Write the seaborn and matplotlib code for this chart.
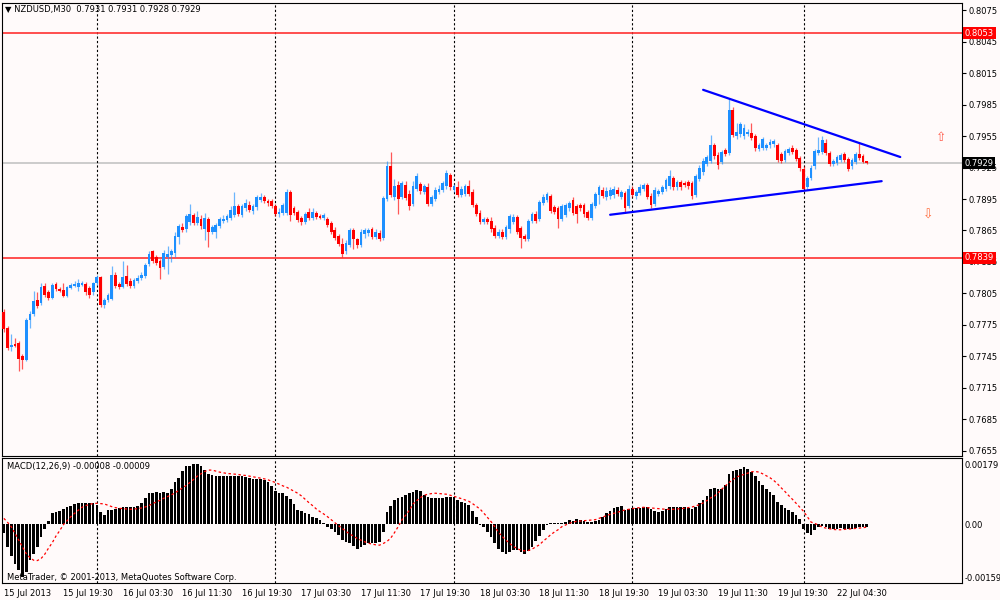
import matplotlib
matplotlib.use("Agg")
import matplotlib.pyplot as plt
import matplotlib.transforms as mtransforms
import seaborn as sns
import numpy as np

# NZDUSD M30, one entry per bar (15 Jul 2013 11:30 -> 22 Jul 2013 07:30)
opens = [
    0.7787, 0.7772, 0.7754, 0.7757, 0.7758, 0.7745, 0.7742, 0.7780, 0.7785, 0.7799,
    0.7796, 0.7812, 0.7806, 0.7801, 0.7814, 0.7809, 0.7808, 0.7803, 0.7810, 0.7812,
    0.7811, 0.7813, 0.7814, 0.7810, 0.7806, 0.7815, 0.7821, 0.7794, 0.7799, 0.7800,
    0.7823, 0.7814, 0.7811, 0.7822, 0.7817, 0.7812, 0.7817, 0.7820, 0.7822, 0.7833,
    0.7845, 0.7840, 0.7836, 0.7830, 0.7840, 0.7842, 0.7844, 0.7859, 0.7868, 0.7866,
    0.7873, 0.7880, 0.7872, 0.7876, 0.7866, 0.7876, 0.7864, 0.7864, 0.7869, 0.7874,
    0.7875, 0.7877, 0.7880, 0.7888, 0.7880, 0.7886, 0.7889, 0.7884, 0.7887, 0.7894,
    0.7897, 0.7893, 0.7893, 0.7888, 0.7881, 0.7882, 0.7882, 0.7902, 0.7886, 0.7883,
    0.7877, 0.7873, 0.7883, 0.7877, 0.7882, 0.7879, 0.7877, 0.7876, 0.7872, 0.7865,
    0.7860, 0.7852, 0.7845, 0.7851, 0.7865, 0.7857, 0.7851, 0.7862, 0.7863, 0.7866,
    0.7859, 0.7863, 0.7858, 0.7895, 0.7926, 0.7897, 0.7908, 0.7897, 0.7908, 0.7900,
    0.7890, 0.7905, 0.7909, 0.7902, 0.7906, 0.7890, 0.7895, 0.7902, 0.7904, 0.7907,
    0.7918, 0.7904, 0.7906, 0.7899, 0.7900, 0.7907, 0.7902, 0.7889, 0.7882, 0.7873,
    0.7876, 0.7874, 0.7867, 0.7860, 0.7864, 0.7859, 0.7866, 0.7873, 0.7878, 0.7867,
    0.7860, 0.7857, 0.7874, 0.7881, 0.7876, 0.7891, 0.7894, 0.7898, 0.7887, 0.7886,
    0.7876, 0.7880, 0.7886, 0.7894, 0.7888, 0.7889, 0.7889, 0.7883, 0.7877, 0.7888,
    0.7899, 0.7904, 0.7897, 0.7898, 0.7899, 0.7904, 0.7897, 0.7901, 0.7888, 0.7905,
    0.7898, 0.7901, 0.7905, 0.7908, 0.7898, 0.7890, 0.7900, 0.7902, 0.7905, 0.7907,
    0.7915, 0.7906, 0.7911, 0.7910, 0.7911, 0.7910, 0.7899, 0.7914, 0.7921, 0.7928,
    0.7931, 0.7946, 0.7937, 0.7930, 0.7942, 0.7939, 0.7980, 0.7955, 0.7957, 0.7955,
    0.7957, 0.7958, 0.7955, 0.7943, 0.7944, 0.7944, 0.7946, 0.7947, 0.7946, 0.7938,
    0.7932, 0.7939, 0.7944, 0.7942, 0.7934, 0.7924, 0.7906, 0.7915, 0.7926, 0.7939,
    0.7940, 0.7948, 0.7939, 0.7928, 0.7929, 0.7932, 0.7938, 0.7933, 0.7926, 0.7930,
    0.7938, 0.7936, 0.7931,
]
highs = [
    0.7790, 0.7774, 0.7766, 0.7763, 0.7760, 0.7747, 0.7782, 0.7788, 0.7807, 0.7806,
    0.7815, 0.7815, 0.7808, 0.7815, 0.7816, 0.7811, 0.7815, 0.7812, 0.7815, 0.7817,
    0.7819, 0.7817, 0.7816, 0.7812, 0.7816, 0.7823, 0.7822, 0.7801, 0.7805, 0.7831,
    0.7825, 0.7816, 0.7836, 0.7832, 0.7820, 0.7820, 0.7823, 0.7825, 0.7834, 0.7845,
    0.7846, 0.7842, 0.7838, 0.7846, 0.7850, 0.7847, 0.7864, 0.7871, 0.7872, 0.7881,
    0.7890, 0.7882, 0.7884, 0.7880, 0.7882, 0.7878, 0.7870, 0.7872, 0.7878, 0.7880,
    0.7881, 0.7888, 0.7902, 0.7890, 0.7890, 0.7895, 0.7893, 0.7890, 0.7899, 0.7901,
    0.7899, 0.7895, 0.7895, 0.7890, 0.7886, 0.7891, 0.7905, 0.7904, 0.7888, 0.7885,
    0.7879, 0.7883, 0.7886, 0.7886, 0.7884, 0.7881, 0.7882, 0.7878, 0.7874, 0.7868,
    0.7862, 0.7858, 0.7856, 0.7867, 0.7867, 0.7858, 0.7866, 0.7867, 0.7867, 0.7868,
    0.7866, 0.7865, 0.7898, 0.7931, 0.7940, 0.7914, 0.7912, 0.7912, 0.7912, 0.7904,
    0.7912, 0.7920, 0.7911, 0.7909, 0.7910, 0.7899, 0.7906, 0.7908, 0.7912, 0.7923,
    0.7920, 0.7909, 0.7912, 0.7907, 0.7909, 0.7913, 0.7905, 0.7891, 0.7885, 0.7878,
    0.7878, 0.7878, 0.7870, 0.7866, 0.7866, 0.7870, 0.7881, 0.7881, 0.7880, 0.7869,
    0.7862, 0.7876, 0.7883, 0.7884, 0.7894, 0.7900, 0.7902, 0.7900, 0.7889, 0.7888,
    0.7890, 0.7891, 0.7893, 0.7897, 0.7890, 0.7891, 0.7891, 0.7885, 0.7892, 0.7902,
    0.7908, 0.7906, 0.7906, 0.7906, 0.7907, 0.7906, 0.7904, 0.7903, 0.7908, 0.7907,
    0.7904, 0.7909, 0.7910, 0.7910, 0.7901, 0.7906, 0.7905, 0.7908, 0.7915, 0.7923,
    0.7917, 0.7913, 0.7913, 0.7912, 0.7913, 0.7912, 0.7919, 0.7927, 0.7934, 0.7937,
    0.7956, 0.7948, 0.7940, 0.7942, 0.7944, 0.7991, 0.7983, 0.7967, 0.7968, 0.7966,
    0.7962, 0.7967, 0.7957, 0.7948, 0.7954, 0.7948, 0.7952, 0.7952, 0.7948, 0.7940,
    0.7943, 0.7945, 0.7946, 0.7944, 0.7936, 0.7926, 0.7917, 0.7927, 0.7943, 0.7954,
    0.7955, 0.7952, 0.7941, 0.7933, 0.7937, 0.7939, 0.7940, 0.7935, 0.7934, 0.7940,
    0.7948, 0.7938, 0.7931,
]
lows = [
    0.7768, 0.7751, 0.7750, 0.7754, 0.7731, 0.7733, 0.7741, 0.7772, 0.7784, 0.7791,
    0.7794, 0.7802, 0.7799, 0.7800, 0.7807, 0.7806, 0.7802, 0.7802, 0.7809, 0.7811,
    0.7807, 0.7812, 0.7804, 0.7801, 0.7804, 0.7813, 0.7792, 0.7791, 0.7797, 0.7799,
    0.7810, 0.7809, 0.7810, 0.7812, 0.7810, 0.7810, 0.7815, 0.7818, 0.7820, 0.7831,
    0.7834, 0.7832, 0.7819, 0.7828, 0.7824, 0.7835, 0.7840, 0.7852, 0.7864, 0.7864,
    0.7870, 0.7870, 0.7870, 0.7866, 0.7856, 0.7849, 0.7862, 0.7858, 0.7867, 0.7872,
    0.7873, 0.7875, 0.7878, 0.7879, 0.7878, 0.7884, 0.7883, 0.7881, 0.7885, 0.7892,
    0.7891, 0.7888, 0.7886, 0.7879, 0.7878, 0.7880, 0.7880, 0.7874, 0.7880, 0.7873,
    0.7870, 0.7871, 0.7875, 0.7875, 0.7876, 0.7876, 0.7875, 0.7868, 0.7862, 0.7856,
    0.7850, 0.7840, 0.7843, 0.7849, 0.7847, 0.7848, 0.7849, 0.7858, 0.7860, 0.7857,
    0.7857, 0.7855, 0.7856, 0.7893, 0.7897, 0.7894, 0.7881, 0.7895, 0.7894, 0.7885,
    0.7888, 0.7903, 0.7900, 0.7900, 0.7888, 0.7888, 0.7893, 0.7900, 0.7902, 0.7905,
    0.7904, 0.7902, 0.7897, 0.7897, 0.7898, 0.7898, 0.7887, 0.7879, 0.7871, 0.7871,
    0.7871, 0.7864, 0.7858, 0.7858, 0.7857, 0.7857, 0.7863, 0.7871, 0.7862, 0.7848,
    0.7855, 0.7855, 0.7872, 0.7872, 0.7874, 0.7889, 0.7892, 0.7882, 0.7881, 0.7867,
    0.7874, 0.7878, 0.7884, 0.7880, 0.7872, 0.7884, 0.7878, 0.7875, 0.7875, 0.7886,
    0.7890, 0.7896, 0.7894, 0.7895, 0.7896, 0.7898, 0.7895, 0.7882, 0.7886, 0.7897,
    0.7895, 0.7899, 0.7903, 0.7895, 0.7886, 0.7888, 0.7898, 0.7900, 0.7903, 0.7905,
    0.7904, 0.7904, 0.7904, 0.7906, 0.7905, 0.7895, 0.7897, 0.7912, 0.7918, 0.7926,
    0.7929, 0.7933, 0.7924, 0.7928, 0.7936, 0.7937, 0.7954, 0.7952, 0.7954, 0.7952,
    0.7955, 0.7951, 0.7941, 0.7941, 0.7942, 0.7942, 0.7944, 0.7945, 0.7930, 0.7929,
    0.7930, 0.7937, 0.7938, 0.7931, 0.7922, 0.7903, 0.7904, 0.7913, 0.7924, 0.7937,
    0.7938, 0.7937, 0.7926, 0.7926, 0.7927, 0.7930, 0.7930, 0.7922, 0.7924, 0.7928,
    0.7932, 0.7929, 0.7928,
]
closes = [
    0.7771, 0.7753, 0.7756, 0.7755, 0.7743, 0.7742, 0.7780, 0.7785, 0.7798, 0.7793,
    0.7811, 0.7804, 0.7801, 0.7813, 0.7809, 0.7807, 0.7803, 0.7811, 0.7813, 0.7814,
    0.7815, 0.7815, 0.7806, 0.7804, 0.7815, 0.7821, 0.7794, 0.7799, 0.7804, 0.7823,
    0.7812, 0.7811, 0.7821, 0.7814, 0.7812, 0.7818, 0.7820, 0.7823, 0.7832, 0.7843,
    0.7836, 0.7834, 0.7829, 0.7844, 0.7843, 0.7845, 0.7860, 0.7869, 0.7865, 0.7879,
    0.7881, 0.7872, 0.7878, 0.7869, 0.7877, 0.7864, 0.7868, 0.7870, 0.7876, 0.7876,
    0.7879, 0.7885, 0.7888, 0.7881, 0.7888, 0.7891, 0.7885, 0.7888, 0.7897, 0.7897,
    0.7893, 0.7891, 0.7888, 0.7881, 0.7883, 0.7889, 0.7902, 0.7880, 0.7882, 0.7875,
    0.7873, 0.7881, 0.7877, 0.7883, 0.7878, 0.7877, 0.7880, 0.7870, 0.7864, 0.7858,
    0.7852, 0.7843, 0.7853, 0.7865, 0.7857, 0.7851, 0.7864, 0.7865, 0.7865, 0.7859,
    0.7864, 0.7857, 0.7896, 0.7926, 0.7899, 0.7907, 0.7895, 0.7910, 0.7896, 0.7888,
    0.7907, 0.7917, 0.7903, 0.7907, 0.7890, 0.7897, 0.7904, 0.7905, 0.7910, 0.7920,
    0.7906, 0.7907, 0.7899, 0.7905, 0.7907, 0.7900, 0.7889, 0.7881, 0.7873, 0.7876,
    0.7873, 0.7866, 0.7860, 0.7864, 0.7859, 0.7868, 0.7879, 0.7878, 0.7864, 0.7858,
    0.7857, 0.7874, 0.7881, 0.7874, 0.7892, 0.7897, 0.7900, 0.7884, 0.7883, 0.7876,
    0.7888, 0.7889, 0.7891, 0.7882, 0.7881, 0.7886, 0.7881, 0.7877, 0.7890, 0.7900,
    0.7906, 0.7898, 0.7903, 0.7904, 0.7905, 0.7900, 0.7902, 0.7886, 0.7905, 0.7899,
    0.7902, 0.7906, 0.7908, 0.7897, 0.7889, 0.7904, 0.7903, 0.7906, 0.7913, 0.7917,
    0.7906, 0.7911, 0.7906, 0.7908, 0.7907, 0.7898, 0.7917, 0.7925, 0.7931, 0.7935,
    0.7946, 0.7936, 0.7927, 0.7940, 0.7938, 0.7980, 0.7956, 0.7959, 0.7966, 0.7963,
    0.7959, 0.7953, 0.7944, 0.7946, 0.7952, 0.7946, 0.7949, 0.7950, 0.7932, 0.7931,
    0.7941, 0.7943, 0.7940, 0.7933, 0.7925, 0.7905, 0.7915, 0.7925, 0.7941, 0.7942,
    0.7951, 0.7939, 0.7928, 0.7931, 0.7935, 0.7937, 0.7932, 0.7924, 0.7932, 0.7938,
    0.7934, 0.7930, 0.7929,
]

# MACD(12,26,9): main line (histogram) and signal line
macd_main = [
    -0.00028, -0.00068, -0.00096, -0.00118, -0.00138, -0.00159, -0.00143, -0.00108, -0.00088, -0.00068,
    -0.00040, -0.00015, 0.00008, 0.00032, 0.00037, 0.00040, 0.00044, 0.00050, 0.00054, 0.00059,
    0.00062, 0.00062, 0.00062, 0.00062, 0.00064, 0.00057, 0.00037, 0.00027, 0.00042, 0.00042,
    0.00044, 0.00047, 0.00050, 0.00050, 0.00050, 0.00052, 0.00054, 0.00064, 0.00077, 0.00094,
    0.00094, 0.00097, 0.00094, 0.00097, 0.00094, 0.00104, 0.00124, 0.00137, 0.00157, 0.00172,
    0.00174, 0.00179, 0.00178, 0.00174, 0.00160, 0.00150, 0.00147, 0.00144, 0.00142, 0.00142,
    0.00142, 0.00144, 0.00144, 0.00142, 0.00142, 0.00140, 0.00137, 0.00134, 0.00134, 0.00134,
    0.00130, 0.00124, 0.00114, 0.00100, 0.00092, 0.00094, 0.00084, 0.00074, 0.00060, 0.00042,
    0.00040, 0.00034, 0.00029, 0.00022, 0.00017, 0.00012, 0.00002, -0.00008, -0.00015, -0.00023,
    -0.00033, -0.00048, -0.00053, -0.00058, -0.00066, -0.00073, -0.00068, -0.00063, -0.00058, -0.00056,
    -0.00056, -0.00053, -0.00023, 0.00037, 0.00054, 0.00072, 0.00077, 0.00082, 0.00087, 0.00092,
    0.00097, 0.00102, 0.00100, 0.00087, 0.00082, 0.00077, 0.00077, 0.00077, 0.00077, 0.00082,
    0.00080, 0.00080, 0.00072, 0.00067, 0.00064, 0.00057, 0.00040, 0.00022, -0.00002, -0.00008,
    -0.00023, -0.00040, -0.00058, -0.00073, -0.00083, -0.00090, -0.00083, -0.00078, -0.00078, -0.00083,
    -0.00090, -0.00080, -0.00068, -0.00050, -0.00036, -0.00018, -0.00003, 0.00002, 0.00004, 0.00002,
    0.00004, 0.00007, 0.00012, 0.00010, 0.00014, 0.00012, 0.00009, 0.00007, 0.00005, 0.00008,
    0.00012, 0.00022, 0.00032, 0.00040, 0.00047, 0.00052, 0.00054, 0.00042, 0.00044, 0.00047,
    0.00047, 0.00048, 0.00050, 0.00052, 0.00046, 0.00040, 0.00037, 0.00040, 0.00044, 0.00050,
    0.00050, 0.00050, 0.00050, 0.00050, 0.00047, 0.00046, 0.00052, 0.00062, 0.00072, 0.00084,
    0.00104, 0.00108, 0.00106, 0.00104, 0.00117, 0.00150, 0.00158, 0.00161, 0.00164, 0.00170,
    0.00164, 0.00154, 0.00142, 0.00127, 0.00117, 0.00104, 0.00096, 0.00087, 0.00067, 0.00057,
    0.00047, 0.00042, 0.00037, 0.00027, 0.00015, -0.00016, -0.00026, -0.00033, -0.00018, -0.00010,
    -0.00006, -0.00010, -0.00014, -0.00016, -0.00016, -0.00013, -0.00014, -0.00016, -0.00014, -0.00012,
    -0.00010, -0.00009, -0.00008,
]
macd_signal = [
    0.00017, 0.00005, -0.00008, -0.00028, -0.00048, -0.00068, -0.00088, -0.00100, -0.00108, -0.00109,
    -0.00103, -0.00090, -0.00072, -0.00056, -0.00036, -0.00020, -0.00002, 0.00010, 0.00022, 0.00032,
    0.00041, 0.00050, 0.00055, 0.00059, 0.00061, 0.00062, 0.00061, 0.00060, 0.00056, 0.00052,
    0.00049, 0.00047, 0.00046, 0.00045, 0.00044, 0.00045, 0.00046, 0.00048, 0.00051, 0.00055,
    0.00061, 0.00066, 0.00071, 0.00077, 0.00082, 0.00087, 0.00093, 0.00100, 0.00108, 0.00115,
    0.00124, 0.00133, 0.00143, 0.00150, 0.00157, 0.00161, 0.00161, 0.00158, 0.00155, 0.00153,
    0.00151, 0.00150, 0.00149, 0.00148, 0.00146, 0.00145, 0.00143, 0.00141, 0.00139, 0.00137,
    0.00135, 0.00132, 0.00128, 0.00124, 0.00119, 0.00114, 0.00110, 0.00104, 0.00098, 0.00092,
    0.00084, 0.00074, 0.00064, 0.00055, 0.00045, 0.00037, 0.00030, 0.00022, 0.00013, 0.00004,
    -0.00005, -0.00013, -0.00022, -0.00030, -0.00036, -0.00043, -0.00048, -0.00053, -0.00057, -0.00060,
    -0.00062, -0.00063, -0.00058, -0.00052, -0.00042, -0.00026, -0.00008, 0.00012, 0.00026, 0.00041,
    0.00060, 0.00070, 0.00079, 0.00086, 0.00089, 0.00091, 0.00092, 0.00091, 0.00090, 0.00089,
    0.00086, 0.00083, 0.00079, 0.00076, 0.00072, 0.00068, 0.00061, 0.00053, 0.00045, 0.00033,
    0.00020, 0.00007, -0.00008, -0.00025, -0.00037, -0.00048, -0.00058, -0.00067, -0.00073, -0.00078,
    -0.00080, -0.00079, -0.00075, -0.00068, -0.00062, -0.00051, -0.00042, -0.00032, -0.00024, -0.00017,
    -0.00008, -0.00003, 0.00002, 0.00006, 0.00008, 0.00009, 0.00010, 0.00011, 0.00012, 0.00013,
    0.00017, 0.00021, 0.00025, 0.00029, 0.00032, 0.00035, 0.00039, 0.00042, 0.00044, 0.00046,
    0.00048, 0.00049, 0.00050, 0.00049, 0.00048, 0.00047, 0.00046, 0.00045, 0.00044, 0.00044,
    0.00044, 0.00045, 0.00046, 0.00047, 0.00049, 0.00051, 0.00054, 0.00058, 0.00063, 0.00070,
    0.00078, 0.00083, 0.00093, 0.00104, 0.00114, 0.00124, 0.00133, 0.00140, 0.00145, 0.00148,
    0.00152, 0.00156, 0.00157, 0.00155, 0.00150, 0.00144, 0.00138, 0.00130, 0.00120, 0.00108,
    0.00097, 0.00085, 0.00074, 0.00062, 0.00050, 0.00038, 0.00022, 0.00006, 0.00002, -0.00003,
    -0.00009, -0.00012, -0.00014, -0.00016, -0.00017, -0.00017, -0.00016, -0.00015, -0.00014, -0.00013,
    -0.00012, -0.00011, -0.00009,
]

time_labels = ["15 Jul 2013", "15 Jul 19:30", "16 Jul 03:30", "16 Jul 11:30", "16 Jul 19:30",
               "17 Jul 03:30", "17 Jul 11:30", "17 Jul 19:30", "18 Jul 03:30", "18 Jul 11:30",
               "18 Jul 19:30", "19 Jul 03:30", "19 Jul 11:30", "19 Jul 19:30", "22 Jul 04:30"]
time_label_bars = [0, 16, 32, 48, 64, 80, 96, 112, 128, 144, 160, 176, 192, 208, 224]
day_start_bars = [25, 73, 121, 169, 215]

price_ticks = [0.8075, 0.8045, 0.8015, 0.7985, 0.7955, 0.7925, 0.7895, 0.7865,
               0.7835, 0.7805, 0.7775, 0.7745, 0.7715, 0.7685, 0.7655]
macd_ticks = [0.00179, 0.0, -0.00159]
macd_tick_labels = ["0.00179", "0.00", "-0.00159"]

resistance = 0.8053
support = 0.7839
last_price = 0.7929
# hand-drawn trend lines: (bar, price) end points
upper_trend_bars, upper_trend_prices = [188, 241], [0.7999, 0.7935]
lower_trend_bars, lower_trend_prices = [163, 236], [0.7880, 0.7912]
up_arrow = (252, 0.7954)
down_arrow = (248.5, 0.7880)

bg = "#fffafa"
bull, bear = "#1e90ff", "#ff0000"

sns.set_style("white")
plt.rcParams["font.family"] = ["DejaVu Sans"]
plt.rcParams["axes.linewidth"] = 0.8

fig = plt.figure(figsize=(10, 6), dpi=100, facecolor=bg)
ax = fig.add_axes([0.002, 0.24, 0.960, 0.755], facecolor=bg)
axm = fig.add_axes([0.002, 0.0283, 0.960, 0.2083], facecolor=bg, sharex=ax)

x = np.arange(len(closes))
o, h, l, c = (np.array(v) for v in (opens, highs, lows, closes))
cols = np.where(c >= o, bull, bear)

# price panel
ax.axhline(last_price, color="#c8c8c8", lw=1.3, zorder=1)
ax.axhline(resistance, color="#ff3030", lw=1.2, zorder=2)
ax.axhline(support, color="#ff3030", lw=1.2, zorder=2)
ax.vlines(x, l, h, colors=cols, lw=0.9, alpha=0.65, zorder=3)
ax.bar(x, np.maximum(np.abs(c - o), 0.00007), bottom=np.minimum(o, c),
       width=0.75, color=cols, lw=0, zorder=4)
ax.plot(upper_trend_bars, upper_trend_prices, color="#0000ff", lw=1.6, zorder=5)
ax.plot(lower_trend_bars, lower_trend_prices, color="#0000ff", lw=1.6, zorder=5)
ax.text(*up_arrow, "\u21e7", color="#ff5a4a", fontsize=9, ha="center", va="center")
ax.text(*down_arrow, "\u21e9", color="#ff6a3a", fontsize=9, ha="center", va="center")

for a in (ax, axm):
    for b in day_start_bars:
        a.axvline(b, color="black", lw=0.8, ls=(0, (2, 2)), zorder=1)
    for s in a.spines.values():
        s.set_color("black")
        s.set_linewidth(0.8)

ax.set_xlim(-0.5, 257.6)
ax.set_ylim(0.76502, 0.80817)
ax.yaxis.tick_right()
ax.set_yticks(price_ticks)
ax.set_yticklabels([f"{t:.4f}" for t in price_ticks])
ax.tick_params(axis="y", direction="out", length=3, width=0.8, pad=2,
               labelsize=6, colors="black")
ax.tick_params(axis="x", bottom=False, labelbottom=False)

blend = mtransforms.blended_transform_factory(ax.transAxes, ax.transData)
for val, fc in ((resistance, "#ff0000"), (support, "#ff0000"), (last_price, "black")):
    ax.text(1.003, val, f"{val:.4f}", transform=blend, ha="left", va="center",
            fontsize=6, color="white", clip_on=False, zorder=10,
            bbox=dict(boxstyle="square,pad=0.18", fc=fc, ec="none"))

ax.text(0.003, 0.985, "\u25bc NZDUSD,M30  0.7931 0.7931 0.7928 0.7929",
        transform=ax.transAxes, fontsize=6, ha="left", va="center", color="black")

# MACD panel
axm.bar(x, macd_main, width=0.72, color="black", lw=0, zorder=3)
sns.lineplot(x=x, y=macd_signal, ax=axm, color="#ff0000", lw=0.9,
             linestyle=(0, (2, 2)), zorder=4)
axm.set_xlabel("")
axm.set_ylabel("")
axm.set_ylim(-0.00176, 0.00197)
axm.yaxis.tick_right()
axm.set_yticks(macd_ticks)
axm.set_yticklabels(macd_tick_labels)
axm.tick_params(axis="y", length=0, pad=2, labelsize=6, colors="black")
axm.set_xticks(time_label_bars)
axm.set_xticklabels(time_labels)
axm.tick_params(axis="x", direction="out", length=3, width=0.8, pad=1.5,
                labelsize=6, colors="black")
for t in axm.get_xticklabels():
    t.set_horizontalalignment("left")

axm.text(0.005, 0.936, "MACD(12,26,9) -0.00008 -0.00009", transform=axm.transAxes,
         fontsize=6, ha="left", va="center", color="black")
axm.text(0.005, 0.048, "MetaTrader, \u00a9 2001-2013, MetaQuotes Software Corp.",
         transform=axm.transAxes, fontsize=6, ha="left", va="center", color="black")

fig.savefig("out.png", dpi=100, facecolor=bg)
